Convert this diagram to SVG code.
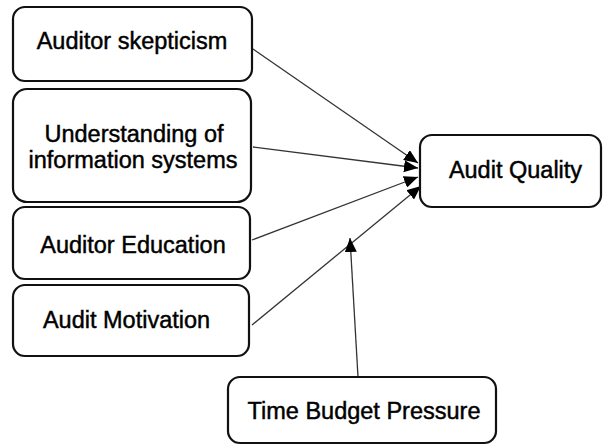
<svg xmlns="http://www.w3.org/2000/svg" width="603" height="445" viewBox="0 0 603 445">
<defs>
<marker id="ah" viewBox="0 0 14 12" refX="14" refY="6" markerWidth="14" markerHeight="12" markerUnits="userSpaceOnUse" orient="auto">
<path d="M0,0 L14,6 L0,12 Z" fill="#000"/>
</marker>
</defs>
<style>
.box{fill:#fff;stroke:#111;stroke-width:2.2}
.lbl{font-family:"Liberation Sans",Arial,sans-serif;font-size:23.5px;fill:#000;stroke:#000;stroke-width:0.45;text-anchor:middle}
.con{stroke:#333;stroke-width:1.3;fill:none;marker-end:url(#ah)}
</style>
<rect width="603" height="445" fill="#fff"/>
<g id="connectors">
<line class="con" x1="253" y1="49" x2="418" y2="163"/>
<line class="con" x1="253" y1="147" x2="418" y2="168"/>
<line class="con" x1="252" y1="240" x2="418" y2="177"/>
<line class="con" x1="252" y1="325" x2="421" y2="186"/>
<line class="con" x1="358" y1="377" x2="350" y2="238"/>
</g>
<g id="auditor-skepticism">
<rect class="box" x="13" y="7" width="239" height="74" rx="12"/>
<text class="lbl" x="132" y="49">Auditor skepticism</text>
</g>
<g id="understanding-is">
<rect class="box" x="13" y="89" width="238" height="113" rx="14"/>
<text class="lbl" x="134" y="142">Understanding of</text>
<text class="lbl" x="133" y="168">information systems</text>
</g>
<g id="auditor-education">
<rect class="box" x="13" y="207" width="237" height="72" rx="12"/>
<text class="lbl" x="133" y="253">Auditor Education</text>
</g>
<g id="audit-motivation">
<rect class="box" x="13" y="285" width="236" height="71" rx="12"/>
<text class="lbl" x="126.5" y="328">Audit Motivation</text>
</g>
<g id="time-budget-pressure">
<rect class="box" x="228" y="377" width="268" height="66" rx="12"/>
<text class="lbl" x="364" y="419">Time Budget Pressure</text>
</g>
<g id="audit-quality">
<rect class="box" x="420" y="135" width="181" height="72" rx="12"/>
<text class="lbl" x="515.5" y="178">Audit Quality</text>
</g>
</svg>
